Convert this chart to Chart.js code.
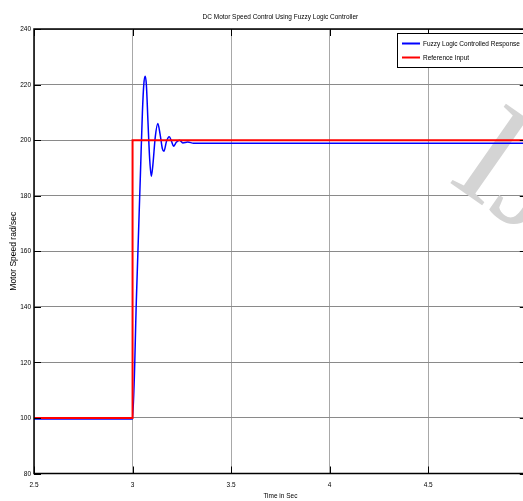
<!DOCTYPE html>
<html>
<head>
<meta charset="utf-8">
<script src="https://cdn.jsdelivr.net/npm/chart.js@4.4.1/dist/chart.umd.min.js"></script>
<style>
  html, body { margin: 0; padding: 0; background: #fff; overflow: hidden; }
  #wrap { width: 535px; height: 501px; }
</style>
</head>
<body>
<div id="wrap"><canvas id="speedChart" width="535" height="501"></canvas></div>
<script>
// chart data
const responseTime = [2.5, 3.0, 3.02, 3.04, 3.05, 3.057, 3.064, 3.07, 3.078, 3.087, 3.095, 3.103, 3.115, 3.128, 3.14, 3.151, 3.159, 3.172, 3.186, 3.198, 3.208, 3.222, 3.238, 3.255, 3.28, 3.31, 5.0];
const responseSpeed = [99.6, 99.6, 144, 188, 210, 220, 223, 220, 207, 193, 187, 191, 201, 206, 202, 197, 196, 199.5, 201.2, 199.5, 197.8, 199.2, 200, 199, 199.3, 198.9, 198.9];
const refTime = [2.5, 3.0, 3.0, 5.0];
const refSpeed = [100, 100, 200, 200];
const xTicks = [2.5, 3, 3.5, 4, 4.5, 5];
const yTicks = [80, 100, 120, 140, 160, 180, 200, 220, 240];
const seriesNames = ["Fuzzy Logic Controlled Response", "Reference Input"];
const seriesColors = ["#0000ff", "#ff0000"];
const yTitle = "Motor Speed rad/sec";

const sans = "'Liberation Sans', Arial, sans-serif";

function toPoints(xs, ys) {
    return xs.map((x, i) => ({ x: x, y: ys[i] }));
}

// matlab export uses a narrow font, so squash the text horizontally
function narrowText(ctx) {
    const fill = ctx.fillText.bind(ctx);
    ctx.fillText = function (text, x, y, maxWidth) {
        if (text === yTitle || text === "IJERT") return fill(text, x, y);
        ctx.save();
        ctx.translate(x, y);
        ctx.scale(0.81, 1);
        fill(text, 0, 0);
        ctx.restore();
    };
}

// faint publisher watermark in the corner
const watermarkPlugin = {
    id: "watermark",
    beforeDatasetsDraw(chart) {
        const ctx = chart.ctx;
        ctx.save();
        ctx.translate(446, 180);
        ctx.rotate(35 * Math.PI / 180);
        ctx.fillStyle = "#d4d4d4";
        ctx.font = "148px 'Liberation Serif', 'DejaVu Serif', serif";
        ctx.textBaseline = "alphabetic";
        ctx.textAlign = "left";
        ctx.fillText("IJERT", 0, 0);
        ctx.restore();
    }
};

// box + inward tick marks like the matlab axes
const framePlugin = {
    id: "frame",
    afterDatasetsDraw(chart) {
        const { ctx, chartArea: a, scales } = chart;
        ctx.save();
        ctx.strokeStyle = "#000";
        ctx.lineWidth = 1;
        xTicks.forEach(v => {
            const x = Math.round(scales.x.getPixelForValue(v)) + 0.5;
            ctx.beginPath();
            ctx.moveTo(x, a.bottom); ctx.lineTo(x, a.bottom - 7);
            ctx.moveTo(x, a.top); ctx.lineTo(x, a.top + 7);
            ctx.stroke();
        });
        yTicks.forEach(v => {
            const y = Math.round(scales.y.getPixelForValue(v)) + 0.5;
            ctx.beginPath();
            ctx.moveTo(a.left, y); ctx.lineTo(a.left + 7, y);
            ctx.moveTo(a.right, y); ctx.lineTo(a.right - 7, y);
            ctx.stroke();
        });
        ctx.lineWidth = 1.5;
        ctx.strokeRect(a.left, a.top, a.right - a.left, a.bottom - a.top);
        ctx.restore();
    }
};

// boxed legend in the top right corner
const legendPlugin = {
    id: "boxLegend",
    afterDatasetsDraw(chart) {
        const ctx = chart.ctx;
        const left = 397.5, top = 33.5;
        ctx.save();
        ctx.fillStyle = "#fff";
        ctx.fillRect(left, top, 140, 34);
        ctx.strokeStyle = "#000";
        ctx.lineWidth = 1;
        ctx.strokeRect(left, top, 140, 34);
        ctx.font = "8px " + sans;
        ctx.textBaseline = "middle";
        ctx.textAlign = "left";
        seriesNames.forEach((name, i) => {
            const y = top + 10 + i * 14;
            ctx.strokeStyle = seriesColors[i];
            ctx.lineWidth = 2;
            ctx.beginPath();
            ctx.moveTo(402, y); ctx.lineTo(420, y);
            ctx.stroke();
            ctx.fillStyle = "#000";
            ctx.fillText(name, 423, y);
        });
        ctx.restore();
    }
};

const ctx = document.getElementById("speedChart").getContext("2d");
narrowText(ctx);
const speedChart = new Chart(ctx, {
    type: "line",
    data: {
        datasets: [
            {
                label: seriesNames[1],
                data: toPoints(refTime, refSpeed),
                borderColor: seriesColors[1],
                borderWidth: 2,
                pointRadius: 0,
                fill: false,
                order: 0
            },
            {
                label: seriesNames[0],
                data: toPoints(responseTime, responseSpeed),
                borderColor: seriesColors[0],
                borderWidth: 1.5,
                pointRadius: 0,
                cubicInterpolationMode: "monotone",
                fill: false,
                order: 1
            }
        ]
    },
    options: {
        responsive: false,
        animation: false,
        layout: { padding: 0 },
        plugins: {
            legend: { display: false },
            tooltip: { enabled: false },
            title: {
                display: true,
                text: "DC Motor Speed Control Using Fuzzy Logic Controller",
                color: "#000",
                fullSize: false,
                font: { family: sans, size: 8, weight: "normal", lineHeight: 1.2 },
                padding: { top: 12, bottom: 7.4 }
            }
        },
        scales: {
            x: {
                type: "linear",
                min: 2.5,
                max: 5,
                afterBuildTicks: s => { s.ticks = xTicks.map(v => ({ value: v })); },
                afterFit: s => { s.height = 27.5; },
                grid: { color: "#a8a8a8", lineWidth: 1, drawTicks: false },
                border: { display: false },
                ticks: {
                    color: "#000",
                    padding: 6,
                    maxRotation: 0,
                    font: { family: sans, size: 8 },
                    callback: v => String(v)
                },
                title: {
                    display: true,
                    text: "Time in Sec",
                    color: "#000",
                    font: { family: sans, size: 8, lineHeight: 1.2 },
                    padding: 0
                }
            },
            y: {
                min: 80,
                max: 240,
                afterBuildTicks: s => { s.ticks = yTicks.map(v => ({ value: v })); },
                afterFit: s => { s.width = 34; },
                grid: { color: "#8a8a8a", lineWidth: 1, drawTicks: false },
                border: { display: false },
                ticks: {
                    color: "#000",
                    padding: 3,
                    font: { family: sans, size: 8 }
                },
                title: {
                    display: true,
                    text: yTitle,
                    color: "#000",
                    font: { family: sans, size: 8.5, lineHeight: 1.2 },
                    padding: { top: 9, bottom: 0 }
                }
            }
        }
    },
    plugins: [watermarkPlugin, framePlugin, legendPlugin]
});
</script>
</body>
</html>
